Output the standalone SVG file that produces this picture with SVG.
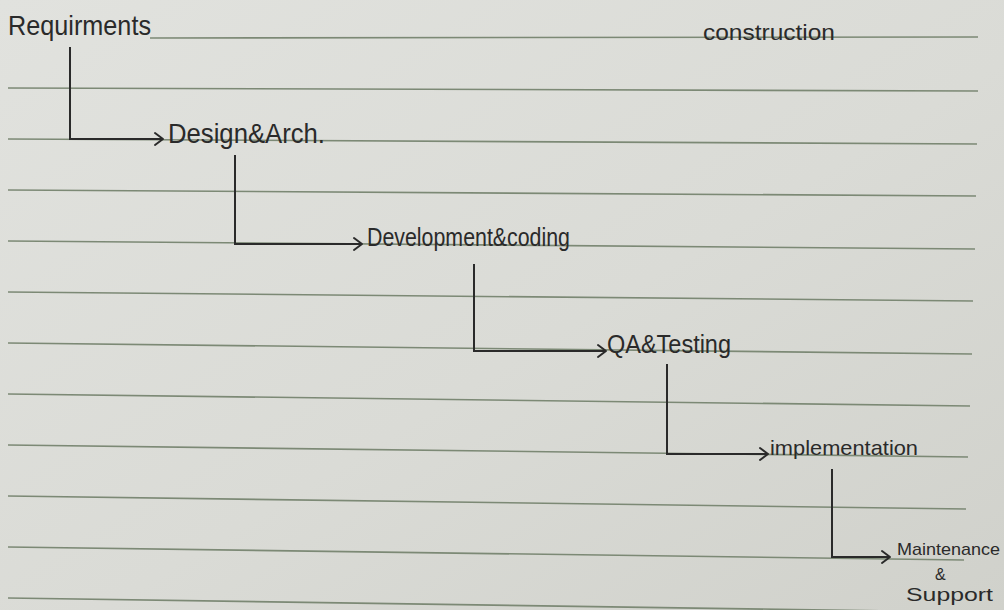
<svg xmlns="http://www.w3.org/2000/svg" width="1004" height="610" viewBox="0 0 1004 610">
  <defs>
    <linearGradient id="paper" x1="0" y1="0" x2="1" y2="1">
      <stop offset="0" stop-color="#e1e2de"/>
      <stop offset="0.55" stop-color="#dadbd6"/>
      <stop offset="1" stop-color="#d0d1cb"/>
    </linearGradient>
    <marker id="chev" viewBox="-10 -8 12 16" refX="0" refY="0" markerWidth="12" markerHeight="16" markerUnits="userSpaceOnUse" orient="auto">
      <path d="M-8,-6 L0,0 L-8,6" fill="none" stroke="#2a2a2a" stroke-width="2" stroke-linecap="round" stroke-linejoin="round"/>
    </marker>
    <style>
      .rule { stroke: #7c8975; stroke-width: 1.6; fill: none; }
      .pen { stroke: #2a2a2a; stroke-width: 2; fill: none; stroke-linejoin: miter; }
      .hand { font-family: "Liberation Sans", "DejaVu Sans", sans-serif; fill: #2a2a2a; }
    </style>
  </defs>

  <!-- notebook page -->
  <rect x="0" y="0" width="1004" height="610" fill="url(#paper)"/>

  <!-- ruled lines -->
  <g id="ruled-lines">
    <line class="rule" x1="150" y1="38" x2="978" y2="37"/>
    <line class="rule" x1="8" y1="88" x2="978" y2="91"/>
    <line class="rule" x1="8" y1="139" x2="977" y2="144"/>
    <line class="rule" x1="8" y1="190" x2="976" y2="196"/>
    <line class="rule" x1="8" y1="241" x2="975" y2="249"/>
    <line class="rule" x1="8" y1="292" x2="973" y2="301"/>
    <line class="rule" x1="8" y1="343" x2="972" y2="354"/>
    <line class="rule" x1="8" y1="394" x2="970" y2="406"/>
    <line class="rule" x1="8" y1="445" x2="968" y2="457"/>
    <line class="rule" x1="8" y1="496" x2="966" y2="509"/>
    <line class="rule" x1="8" y1="547" x2="964" y2="560"/>
    <line class="rule" x1="8" y1="598" x2="962" y2="612"/>
  </g>

  <!-- stage flow connectors -->
  <g id="connectors">
    <path class="pen" d="M70,47 V139 H163" marker-end="url(#chev)"/>
    <path class="pen" d="M235,155 V244 H362" marker-end="url(#chev)"/>
    <path class="pen" d="M474,264 V351 H606" marker-end="url(#chev)"/>
    <path class="pen" d="M667,364 V454 H768" marker-end="url(#chev)"/>
    <path class="pen" d="M832,469 V557 H890" marker-end="url(#chev)"/>
  </g>

  <g id="requirements">
    <text class="hand" x="8" y="35" font-size="28" textLength="143" lengthAdjust="spacingAndGlyphs">Requirments</text>
  </g>

  <g id="construction">
    <text class="hand" x="703" y="40" font-size="22" textLength="132" lengthAdjust="spacingAndGlyphs">construction</text>
  </g>

  <g id="design">
    <text class="hand" x="168" y="143" font-size="27" textLength="157" lengthAdjust="spacingAndGlyphs">Design&amp;Arch.</text>
  </g>

  <g id="development">
    <text class="hand" x="367" y="246" font-size="26" textLength="203" lengthAdjust="spacingAndGlyphs">Development&amp;coding</text>
  </g>

  <g id="testing">
    <text class="hand" x="607" y="353" font-size="25" textLength="124" lengthAdjust="spacingAndGlyphs">QA&amp;Testing</text>
  </g>

  <g id="implementation">
    <text class="hand" x="770" y="455" font-size="21" textLength="148" lengthAdjust="spacingAndGlyphs">implementation</text>
  </g>

  <g id="maintenance">
    <text class="hand" x="897" y="555" font-size="17" textLength="103" lengthAdjust="spacingAndGlyphs">Maintenance</text>
    <text class="hand" x="935" y="580" font-size="16">&amp;</text>
    <text class="hand" x="906" y="601" font-size="19" textLength="87" lengthAdjust="spacingAndGlyphs">Support</text>
  </g>
</svg>
